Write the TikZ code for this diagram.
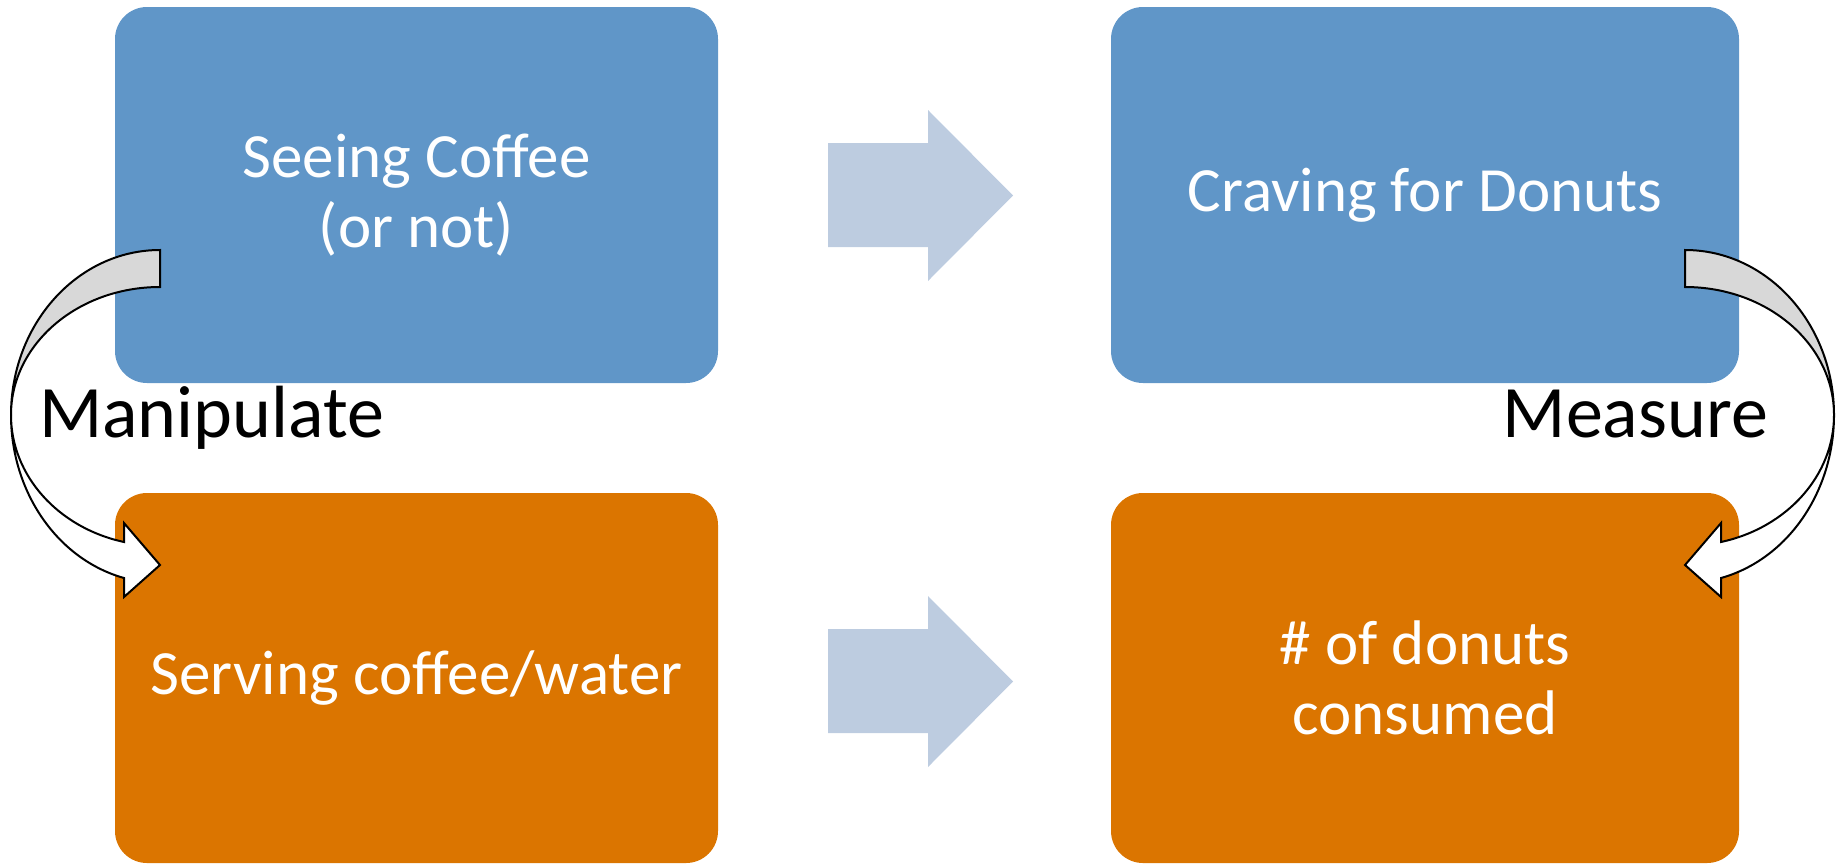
\documentclass[tikz,border=0pt]{standalone}
\usepackage{fontspec}
\setmainfont{Carlito}

\definecolor{boxblue}{RGB}{96,150,200}
\definecolor{boxorange}{RGB}{219,117,0}
\definecolor{flowblue}{RGB}{189,204,224}
\definecolor{backgray}{RGB}{216,216,216}

% curved "turn" arrow: grey back half on top, white front half with head
\newcommand\bendarrow{%
  \filldraw[twist, fill=backgray]
    (160,250) .. controls (77.7,250) and (11,323.9) .. (11,415)
              .. controls (11,344.3) and (77.7,287) .. (160,287) -- cycle;
  \filldraw[twist, fill=white]
    (11,415) .. controls (11,492.1) and (57.6,559.4) .. (124,578)
             -- (124,597) -- (160,565) -- (124,523) -- (124,542)
             .. controls (57.6,527.6) and (11,475.1) .. (11,415) -- cycle;
}

\begin{document}
\begin{tikzpicture}[x=1pt, y=-1pt,
  card/.style={rectangle, rounded corners=32pt, inner sep=0pt,
    minimum width=603pt, minimum height=376pt,
    text=white, align=center, font=\fontsize{63}{70}\selectfont},
  tag/.style={inner sep=0pt, text=black, font=\fontsize{74}{82}\selectfont},
  flow/.style={fill=flowblue, draw=none},
  twist/.style={draw=black, line width=2pt, line join=miter}]
\useasboundingbox (0,0) rectangle (1841,865);

% four boxes
\node[card, fill=boxblue] (see) at (416.5,195) {Seeing Coffee\\(or not)};
\node[card, fill=boxblue, minimum width=628pt] (crave) at (1425,195) {Craving for Donuts};
\node[card, fill=boxorange, minimum height=370pt] (serve) at (416.5,678) {Serving coffee/water};
\node[card, fill=boxorange, minimum width=628pt, minimum height=370pt] (eat) at (1425,678) {\# of donuts\\consumed};

% block arrows between the columns
\path[flow] (828,143) -- (928,143) -- (928,110) -- (1013,195.5)
            -- (928,281) -- (928,247) -- (828,247) -- cycle;
\path[flow] (828,629) -- (928,629) -- (928,596) -- (1013,681.5)
            -- (928,767) -- (928,733) -- (828,733) -- cycle;

% side labels
\node[tag, anchor=base west] (manip) at (39,437) {Manipulate};
\node[tag, anchor=base east] (meas) at (1768,437) {Measure};

% curved arrows on both sides
\begin{scope}
  \bendarrow
\end{scope}
\begin{scope}[shift={(1845,0)}, xscale=-1]
  \bendarrow
\end{scope}
\end{tikzpicture}
\end{document}
